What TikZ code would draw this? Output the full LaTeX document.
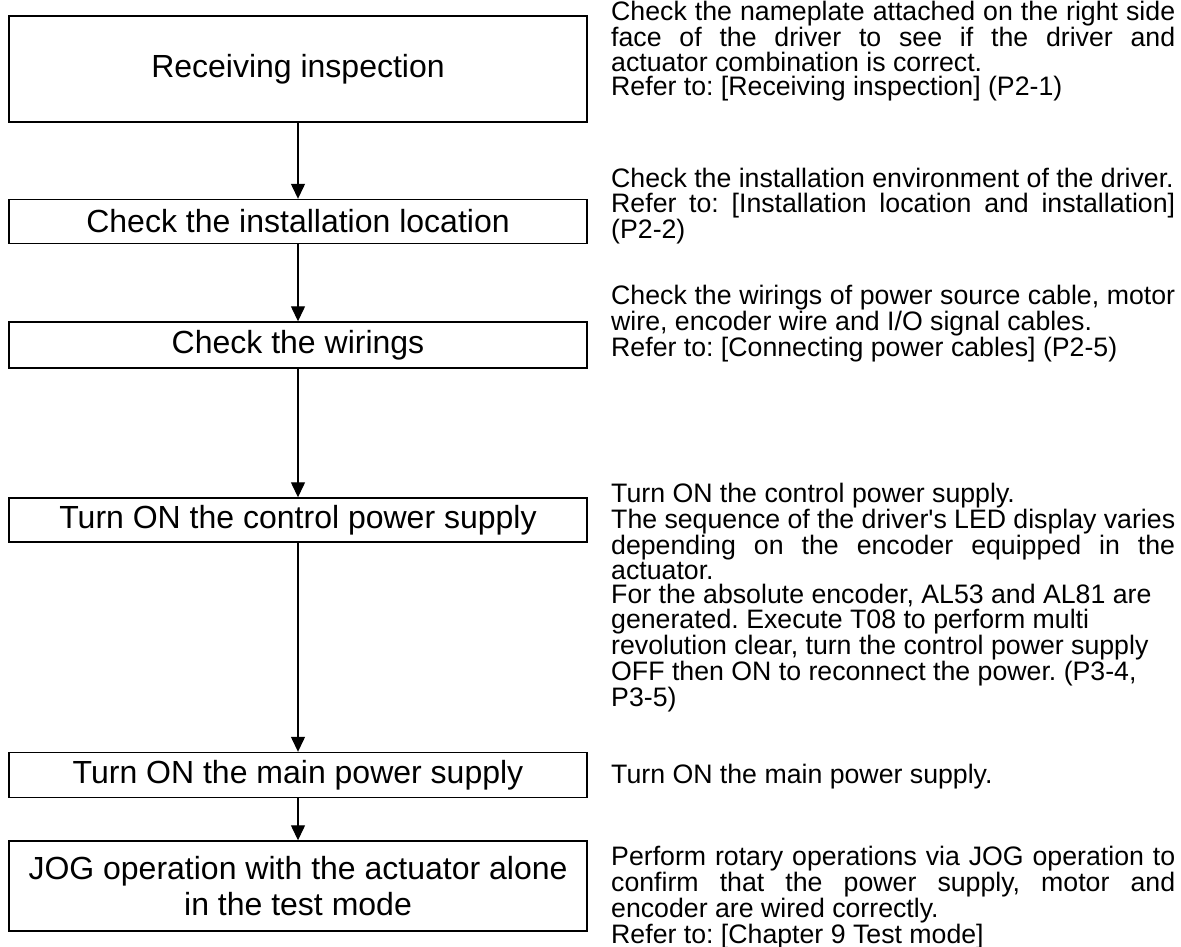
\documentclass[tikz,border=0pt]{standalone}
\usepackage{fontspec}
\setmainfont{Liberation Sans}[Ligatures=TeXOff]
\usetikzlibrary{arrows.meta}
\newcommand\J[1]{\hbox to 564pt{#1}}
\hbadness=10000
\frenchspacing
\begin{document}
\begin{tikzpicture}[x=1pt,y=-1pt,
  box/.style={draw,line width=1.4pt,minimum width=578pt,inner sep=0pt,
    font=\fontsize{32}{36}\selectfont,align=center},
  desc/.style={anchor=north west,inner sep=0pt,align=left,
    font=\fontsize{26.7}{24.7}\selectfont\frenchspacing},
  flow/.style={line width=1.3pt,-{Triangle[length=15pt,width=14pt]}}]
\useasboundingbox[fill=white] (0,0) rectangle (1181,947);
\node[box,minimum height=106pt] (b1) at (298,69) {Receiving inspection};
\node[box,minimum height=44pt] (b2) at (298,221.5) {Check the installation location};
\node[box,minimum height=46pt] (b3) at (298,345) {Check the wirings};
\node[box,minimum height=44pt] (b4) at (298,520) {Turn ON the control power supply};
\node[box,minimum height=45pt] (b5) at (298,775) {Turn ON the main power supply};
\node[box,minimum height=90pt] (b6) at (298,886) {JOG operation with the actuator alone\\in the test mode};
\draw[flow] (b1) -- (b2);
\draw[flow] (b2) -- (b3);
\draw[flow] (b3) -- (b4);
\draw[flow] (b4) -- (b5);
\draw[flow] (b5) -- (b6);
\node[desc] (t1) at (611,1) {\J{Check the nameplate attached on the right side}\\
  \J{face of the driver to see if the driver and}\\
  actuator combination is correct.\\
  Refer to: [Receiving inspection] (P2-1)};
\node[desc] (t2) at (611,168) {Check the installation environment of the driver.\\
  \J{Refer to: [Installation location and installation]}\\
  (P2-2)};
\node[desc] (t3) at (611,285) {\J{Check the wirings of power source cable, motor}\\
  wire, encoder wire and I/O signal cables.\\
  Refer to: [Connecting power cables] (P2-5)};
\node[desc] (t4) at (611,483) {Turn ON the control power supply.\\
  \J{The sequence of the driver's LED display varies}\\
  \J{depending on the encoder equipped in the}\\
  actuator.\\
  For the absolute encoder, AL53 and AL81 are\\
  generated. Execute T08 to perform multi\\
  revolution clear, turn the control power supply\\
  OFF then ON to reconnect the power. (P3-4,\\
  P3-5)};
\node[desc] (t5) at (611,764) {Turn ON the main power supply.};
\node[desc] (t6) at (611,846) {\J{Perform rotary operations via JOG operation to}\\
  \J{confirm that the power supply, motor and}\\
  encoder are wired correctly.\\
  Refer to: [Chapter 9 Test mode]};
\end{tikzpicture}
\end{document}
